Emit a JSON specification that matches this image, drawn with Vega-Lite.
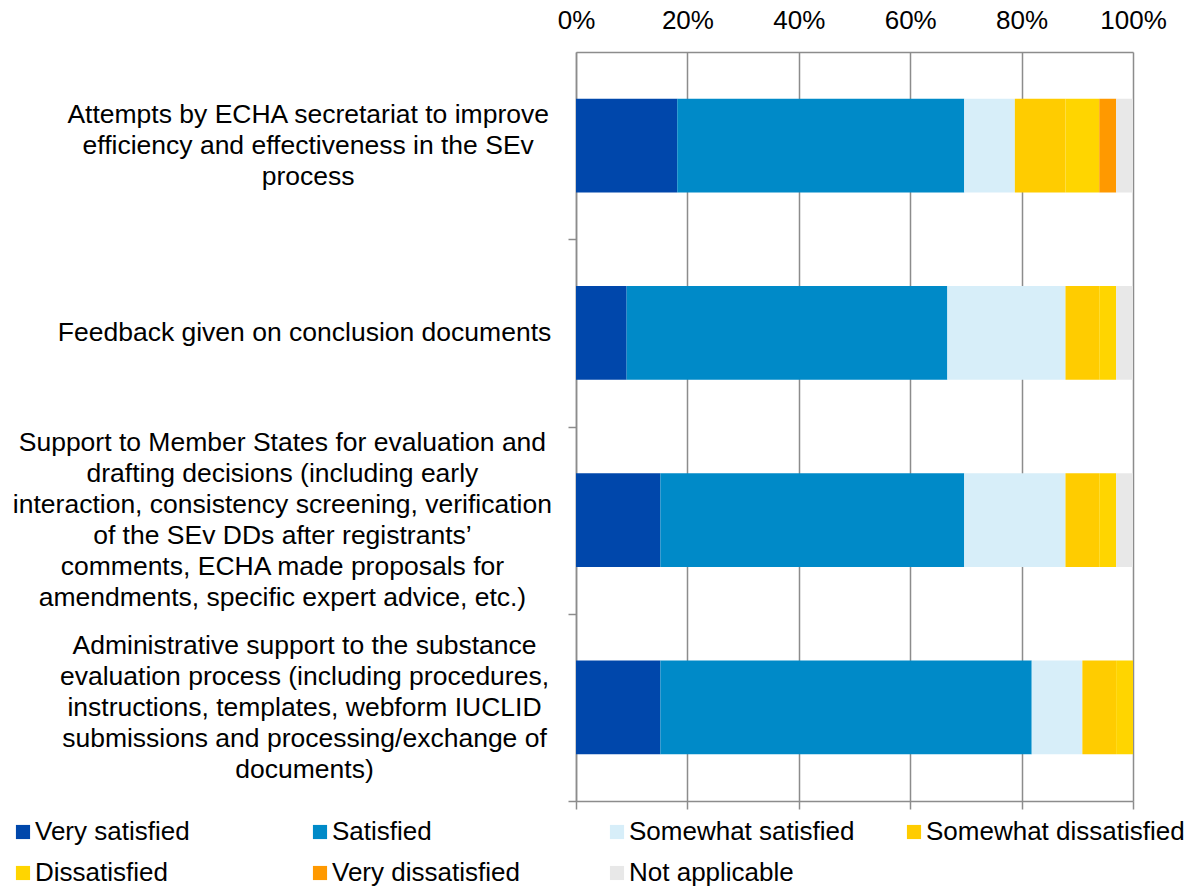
{
  "$schema": "https://vega.github.io/schema/vega-lite/v6.json",
  "autosize": "none",
  "width": 557,
  "height": 749,
  "padding": {"left": 576, "top": 52, "right": 60, "bottom": 87},
  "background": "white",
  "config": {"font": "Liberation Sans", "view": {"stroke": null}},
  "datasets": {
    "survey": [
      {"item": "Attempts by ECHA secretariat to improve|efficiency and effectiveness in the SEv|process", "response": "Very satisfied", "rank": 1, "pct": 18.18},
      {"item": "Attempts by ECHA secretariat to improve|efficiency and effectiveness in the SEv|process", "response": "Satisfied", "rank": 2, "pct": 51.52},
      {"item": "Attempts by ECHA secretariat to improve|efficiency and effectiveness in the SEv|process", "response": "Somewhat satisfied", "rank": 3, "pct": 9.09},
      {"item": "Attempts by ECHA secretariat to improve|efficiency and effectiveness in the SEv|process", "response": "Somewhat dissatisfied", "rank": 4, "pct": 9.09},
      {"item": "Attempts by ECHA secretariat to improve|efficiency and effectiveness in the SEv|process", "response": "Dissatisfied", "rank": 5, "pct": 6.06},
      {"item": "Attempts by ECHA secretariat to improve|efficiency and effectiveness in the SEv|process", "response": "Very dissatisfied", "rank": 6, "pct": 3.03},
      {"item": "Attempts by ECHA secretariat to improve|efficiency and effectiveness in the SEv|process", "response": "Not applicable", "rank": 7, "pct": 3.03},
      {"item": "Feedback given on conclusion documents", "response": "Very satisfied", "rank": 1, "pct": 9.09},
      {"item": "Feedback given on conclusion documents", "response": "Satisfied", "rank": 2, "pct": 57.58},
      {"item": "Feedback given on conclusion documents", "response": "Somewhat satisfied", "rank": 3, "pct": 21.21},
      {"item": "Feedback given on conclusion documents", "response": "Somewhat dissatisfied", "rank": 4, "pct": 6.06},
      {"item": "Feedback given on conclusion documents", "response": "Dissatisfied", "rank": 5, "pct": 3.03},
      {"item": "Feedback given on conclusion documents", "response": "Not applicable", "rank": 7, "pct": 3.03},
      {"item": "Support to Member States for evaluation and|drafting decisions (including early|interaction, consistency screening, verification|of the SEv DDs after registrants’|comments, ECHA made proposals for|amendments, specific expert advice, etc.)", "response": "Very satisfied", "rank": 1, "pct": 15.15},
      {"item": "Support to Member States for evaluation and|drafting decisions (including early|interaction, consistency screening, verification|of the SEv DDs after registrants’|comments, ECHA made proposals for|amendments, specific expert advice, etc.)", "response": "Satisfied", "rank": 2, "pct": 54.55},
      {"item": "Support to Member States for evaluation and|drafting decisions (including early|interaction, consistency screening, verification|of the SEv DDs after registrants’|comments, ECHA made proposals for|amendments, specific expert advice, etc.)", "response": "Somewhat satisfied", "rank": 3, "pct": 18.18},
      {"item": "Support to Member States for evaluation and|drafting decisions (including early|interaction, consistency screening, verification|of the SEv DDs after registrants’|comments, ECHA made proposals for|amendments, specific expert advice, etc.)", "response": "Somewhat dissatisfied", "rank": 4, "pct": 6.06},
      {"item": "Support to Member States for evaluation and|drafting decisions (including early|interaction, consistency screening, verification|of the SEv DDs after registrants’|comments, ECHA made proposals for|amendments, specific expert advice, etc.)", "response": "Dissatisfied", "rank": 5, "pct": 3.03},
      {"item": "Support to Member States for evaluation and|drafting decisions (including early|interaction, consistency screening, verification|of the SEv DDs after registrants’|comments, ECHA made proposals for|amendments, specific expert advice, etc.)", "response": "Not applicable", "rank": 7, "pct": 3.03},
      {"item": "Administrative support to the substance|evaluation process (including procedures,|instructions, templates, webform IUCLID|submissions and processing/exchange of|documents)", "response": "Very satisfied", "rank": 1, "pct": 15.15},
      {"item": "Administrative support to the substance|evaluation process (including procedures,|instructions, templates, webform IUCLID|submissions and processing/exchange of|documents)", "response": "Satisfied", "rank": 2, "pct": 66.67},
      {"item": "Administrative support to the substance|evaluation process (including procedures,|instructions, templates, webform IUCLID|submissions and processing/exchange of|documents)", "response": "Somewhat satisfied", "rank": 3, "pct": 9.09},
      {"item": "Administrative support to the substance|evaluation process (including procedures,|instructions, templates, webform IUCLID|submissions and processing/exchange of|documents)", "response": "Somewhat dissatisfied", "rank": 4, "pct": 6.06},
      {"item": "Administrative support to the substance|evaluation process (including procedures,|instructions, templates, webform IUCLID|submissions and processing/exchange of|documents)", "response": "Dissatisfied", "rank": 5, "pct": 3.03}
    ]
  },
  "data": {"name": "survey"},
  "encoding": {
    "y": {
      "field": "item",
      "type": "nominal",
      "sort": null,
      "scale": {"paddingInner": 0.5, "paddingOuter": 0.25},
      "axis": {
        "title": null,
        "labelExpr": "indexof(datum.label, 'Support') == 0 ? split(replace(datum.label, /\\|/g, '\u00a0\u00a0\u00a0\u00a0\u00a0\u00a0\u200b|') + '\u00a0\u00a0\u00a0\u00a0\u00a0\u00a0\u200b', '|') : indexof(datum.label, 'Attempts') == 0 ? split('\u200b\u00a0' + replace(datum.label, /\\|/g, '|\u200b\u00a0'), '|') : split(datum.label, '|')",
        "labelFontSize": 26.5,
        "labelColor": "black",
        "labelLineHeight": 31,
        "labelLimit": 700,
        "labelAlign": "center",
        "labelBaseline": "middle",
        "labelPadding": 264,
        "tickOffset": 93.625,
        "labelOffset": {
          "condition": [
            {"test": "indexof(datum.value, 'Attempts') == 0", "value": -124.625},
            {"test": "indexof(datum.value, 'Support') == 0", "value": -171.125},
            {"test": "indexof(datum.value, 'Administrative') == 0", "value": -155.625}
          ],
          "value": -93.625
        },
        "tickSize": 8,
        "tickColor": "#8c8c8c",
        "tickWidth": 1.5,
        "domainColor": "#8c8c8c",
        "domainWidth": 1.5,
        "grid": false
      }
    }
  },
  "layer": [
    {
      "mark": {"type": "bar"},
      "encoding": {
        "x": {
          "field": "pct",
          "type": "quantitative",
          "stack": "zero",
          "scale": {"domain": [0, 100], "nice": false},
          "axis": {
            "orient": "top",
            "title": null,
            "values": [0, 20, 40, 60, 80, 100],
            "labelExpr": "datum.value + '%'",
            "labelFontSize": 26,
            "labelColor": "black",
            "labelPadding": 19,
            "labelFlush": false,
            "ticks": false,
            "domainColor": "#8c8c8c",
            "domainWidth": 1.5,
            "grid": true,
            "gridColor": "#8c8c8c",
            "gridWidth": 1.5
          }
        },
        "order": {"field": "rank", "type": "quantitative"},
        "color": {
          "field": "response",
          "type": "nominal",
          "scale": {
            "domain": ["Very satisfied", "Satisfied", "Somewhat satisfied", "Somewhat dissatisfied", "Dissatisfied", "Very dissatisfied", "Not applicable"],
            "range": ["#0047AB", "#008AC8", "#D7EEF9", "#FFCC00", "#FFD500", "#FF9900", "#E8E8E8"]
          },
          "legend": {
            "orient": "none",
            "legendX": -566,
            "legendY": 767,
            "direction": "horizontal",
            "columns": 4,
            "title": null,
            "symbolType": "square",
            "symbolSize": 200,
            "symbolStrokeWidth": 0,
            "labelFontSize": 26,
            "labelColor": "black",
            "labelLimit": 400,
            "labelOffset": -1,
            "columnPadding": 13,
            "rowPadding": 15,
            "gridAlign": "all"
          }
        }
      }
    },
    {
      "mark": {"type": "bar", "opacity": 0},
      "encoding": {
        "x": {
          "field": "pct",
          "type": "quantitative",
          "stack": "zero",
          "scale": {"domain": [0, 100], "nice": false},
          "axis": {
            "orient": "bottom",
            "title": null,
            "values": [0, 20, 40, 60, 80, 100],
            "labels": false,
            "ticks": true,
            "tickSize": 8,
            "tickColor": "#8c8c8c",
            "tickWidth": 1.5,
            "domainColor": "#8c8c8c",
            "domainWidth": 1.5,
            "grid": false
          }
        },
        "order": {"field": "rank", "type": "quantitative"}
      }
    }
  ],
  "resolve": {"axis": {"x": "independent"}}
}
